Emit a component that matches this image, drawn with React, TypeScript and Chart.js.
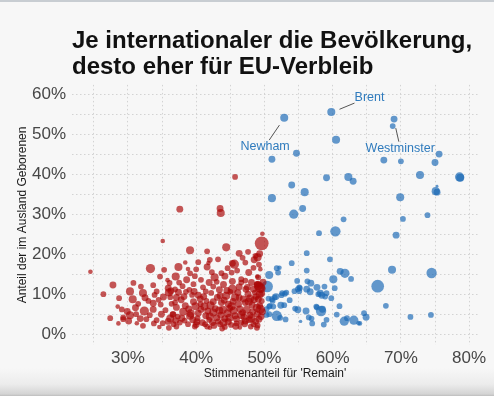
import React, { useEffect, useRef } from "react";
import { Chart, registerables } from "chart.js";

Chart.register(...registerables);

const titleLines = ["Je internationaler die Bevölkerung,", "desto eher für EU-Verbleib"];
const xAxisTitle = "Stimmenanteil für 'Remain'";
const yAxisTitle = "Anteil der im Ausland Geborenen";

const xGridValues = [25, 30, 35, 40, 45, 50, 55, 60, 65, 70, 75, 80];
const xLabelValues = [30, 40, 50, 60, 70, 80];
const yGridValues = [0, 5, 10, 15, 20, 25, 30, 35, 40, 45, 50, 55, 60];
const yLabelValues = [0, 10, 20, 30, 40, 50, 60];

// [remain share %, foreign-born share %, bubble size]
const leaveAreas: [number, number, number][] = [
  [45.7, 39.3, 2.5], [37.6, 31.25, 3], [43.5, 31.4, 3], [43.6, 30.3, 3.5], [35.1, 23.3, 2],
  [49.7, 25.1, 2], [49.6, 22.7, 6], [24.5, 15.6, 2], [26.4, 10.0, 2.5], [27.8, 12.3, 3],
  [27.4, 4.0, 2.5], [28.7, 9.0, 2.5], [29.1, 6.2, 2.5], [30.3, 10.7, 3.5], [30.7, 8.75, 3.5],
  [29.3, 4.2, 2.5], [31.9, 11.9, 2.5], [33.3, 16.4, 4], [34.7, 14.4, 2.5], [33.7, 12.25, 2.5],
  [32.2, 10.3, 3.5], [32.5, 9.1, 3], [32.4, 5.8, 4], [35.8, 13.5, 2], [37.0, 14.4, 3.5],
  [37.4, 16.8, 3.5], [37.5, 12.9, 2.5], [39.1, 21.0, 3.5], [38.4, 17.9, 2], [38.8, 16.3, 2],
  [39.8, 14.5, 2.5], [41.6, 20.7, 2.5], [41.8, 17.8, 2], [41.6, 16.8, 3], [42.7, 14.2, 3.5],
  [43.7, 15.25, 2.5], [44.4, 21.7, 3.5], [45.2, 15.4, 2.5], [45.6, 17.5, 4], [45.3, 17.7, 3],
  [46.3, 20.2, 3], [47.2, 17.9, 2.5], [48.5, 18.6, 3], [48.7, 19.6, 2.5], [49.2, 17.4, 2.5],
  [49.3, 20.1, 3], [49.0, 19.2, 3.5], [49.4, 16.25, 2], [48.95, 14.4, 2], [45.3, 11.25, 4],
  [46.6, 13.75, 2.5], [46.6, 12.9, 2.5], [48.4, 11.25, 3], [49.3, 11.7, 4.5], [49.0, 12.4, 3],
  [49.1, 12.1, 4], [49.5, 11.4, 4], [48.1, 12.9, 3], [47.5, 11.7, 3], [42.5, 11.9, 2.5],
  [41.0, 11.7, 2.5], [39.6, 12.5, 2.5], [41.9, 12.9, 3], [38.5, 10.6, 2.5], [37.1, 9.2, 3],
  [36.3, 10.8, 3], [35.9, 11.5, 3], [36.0, 10.4, 3.5], [36.9, 11.2, 2.5], [36.2, 9.25, 2.5],
  [40.3, 9.75, 3], [43.5, 9.6, 3], [44.4, 9.6, 3.5], [45.7, 9.2, 3.5], [47.9, 8.9, 3.5],
  [48.8, 9.4, 3], [49.3, 7.1, 3], [47.2, 7.9, 3], [46.2, 7.5, 3], [44.7, 7.5, 3],
  [43.7, 7.9, 3], [42.5, 8.1, 3], [41.5, 8.3, 2.5], [40.65, 7.5, 2.5], [39.6, 8.1, 3],
  [38.4, 7.1, 3], [37.1, 6.7, 3], [36.6, 5.0, 2.5], [38.1, 5.6, 3.5], [39.1, 4.6, 3.5],
  [40.3, 5.25, 3], [41.4, 4.6, 3], [42.5, 5.4, 3.5], [43.6, 4.75, 3], [44.6, 5.25, 3.5],
  [45.7, 4.6, 3], [46.8, 5.4, 3], [47.9, 4.75, 3], [48.95, 5.0, 3], [37.6, 2.9, 2.5],
  [38.8, 2.5, 2.5], [40.1, 3.1, 3], [41.3, 2.5, 2.5], [42.4, 2.9, 3], [43.5, 2.5, 2.5],
  [44.7, 3.1, 3], [45.9, 2.7, 2.5], [47.2, 3.3, 3], [48.4, 2.5, 2.5], [36.7, 2.5, 2.5],
  [31.1, 6.6, 3], [28.5, 6.9, 2], [33.7, 6.2, 3], [33.7, 7.75, 3], [30.3, 4.75, 3.5],
  [29.3, 3.75, 2.5], [30.1, 3.3, 3], [31.3, 2.75, 2], [31.8, 3.9, 3], [32.7, 3.75, 2.5],
  [33.8, 2.7, 2.5], [35.1, 2.75, 2.5], [36.2, 3.9, 3.5], [33.2, 4.75, 2.5], [34.8, 7.4, 2.5],
  [36.9, 7.9, 2.5], [37.3, 4.4, 2.5], [36.6, 4.9, 3], [34.5, 8.6, 2.5], [49.1, 8.75, 3],
  [49.4, 6.25, 4], [49.2, 3.75, 3], [49.6, 8.3, 2.5], [49.1, 14.2, 2.5], [48.9, 12.5, 2.5],
  [35.5, 6.0, 2.5], [35.9, 3.2, 3], [36.4, 7.6, 2.5], [37.8, 8.6, 3], [37.9, 4.0, 3],
  [38.3, 3.4, 2.5], [38.9, 6.3, 3], [39.4, 9.8, 2.5], [39.5, 3.6, 3], [39.9, 7.0, 3.5],
  [40.2, 4.0, 2.5], [40.7, 6.2, 3], [40.9, 2.9, 3], [41.1, 9.4, 3], [41.7, 5.8, 3],
  [41.9, 3.6, 2.5], [42.1, 7.2, 3.5], [42.2, 10.3, 2.5], [42.8, 6.4, 3], [43.0, 4.1, 3],
  [43.2, 3.2, 2.5], [43.9, 6.1, 3.5], [44.1, 8.5, 3], [44.2, 3.9, 3], [44.9, 6.5, 3],
  [45.1, 2.3, 2.5], [45.4, 8.2, 3], [45.5, 5.9, 3.5], [45.9, 3.8, 3], [46.1, 10.4, 3],
  [46.4, 6.3, 3], [46.6, 2.9, 2.5], [46.9, 8.8, 3], [47.0, 4.3, 3], [47.4, 6.1, 3.5],
  [47.6, 10.0, 3], [47.8, 3.6, 3], [48.2, 7.3, 3], [48.3, 5.6, 3], [48.6, 10.4, 2.5],
  [48.7, 3.2, 3], [48.9, 6.6, 3.5], [49.5, 4.4, 3], [49.6, 10.2, 3], [49.8, 13.0, 3],
  [47.2, 13.4, 2.5], [44.0, 12.4, 3], [43.0, 13.1, 2.5], [40.7, 13.6, 2.5], [38.6, 13.6, 3],
  [36.1, 12.8, 2.5], [34.2, 10.7, 2.5], [34.9, 5.0, 3], [34.2, 3.5, 2.5], [33.0, 8.3, 2.5],
  [31.5, 7.6, 2.5], [29.9, 5.7, 3], [28.6, 2.7, 2], [32.2, 2.1, 2.5], [34.6, 1.8, 2],
  [37.1, 1.9, 2.5], [39.8, 1.9, 2.5], [42.0, 1.6, 2], [44.2, 1.8, 2.5], [46.4, 1.7, 2],
  [48.0, 1.9, 2.5], [49.0, 2.2, 2.5], [43.4, 11.1, 3], [45.0, 10.6, 2.5], [41.4, 10.7, 2.5],
  [39.0, 11.1, 2.5], [37.4, 10.5, 3], [46.0, 15.9, 2.5], [44.6, 16.5, 2.5], [43.2, 18.7, 2.5],
  [40.3, 18.0, 2.5], [47.7, 15.4, 3], [48.4, 16.6, 2.5], [42.3, 15.5, 2.5], [39.1, 15.2, 2.5],
  [35.3, 16.1, 2.5], [46.8, 19.1, 2.5],
  [38.2, 9.4, 3], [39.2, 5.2, 3.5], [40.0, 2.4, 3], [40.6, 8.8, 3], [41.2, 6.9, 3.5],
  [42.0, 4.4, 3.5], [42.6, 2.2, 3], [43.1, 9.2, 3], [43.4, 5.9, 3.5], [44.0, 2.9, 3.5],
  [44.5, 10.9, 3], [44.9, 4.1, 3.5], [45.2, 7.0, 3.5], [45.8, 2.0, 3], [46.3, 9.1, 3],
  [46.6, 4.8, 3.5], [47.1, 2.6, 3], [47.3, 11.2, 3], [47.7, 8.1, 3.5], [48.1, 4.0, 3.5],
  [48.5, 8.6, 3], [48.9, 1.6, 2.5], [49.3, 9.9, 3.5], [49.7, 5.6, 3], [39.7, 10.7, 3],
  [38.0, 12.0, 2.5], [37.0, 3.4, 3], [36.0, 1.6, 2.5], [35.2, 9.3, 3], [33.9, 9.8, 2.5],
  [41.6, 1.9, 2.5], [43.8, 1.4, 2.5], [45.3, 13.2, 3], [46.3, 11.8, 3], [40.0, 16.2, 2.5],
  [44.2, 14.5, 3], [42.0, 18.6, 2.5], [47.6, 20.6, 2.5], [31.2, 5.0, 2.5], [30.8, 12.8, 2.5],
];

const remainAreas: [number, number, number][] = [
  [52.9, 54.1, 3.5], [59.8, 55.5, 3.5], [69.0, 53.75, 3], [68.8, 52.0, 2.5], [60.5, 48.6, 3.5],
  [51.1, 43.7, 3], [54.7, 45.2, 3], [67.5, 43.5, 3], [70.0, 43.2, 2.5], [75.0, 42.9, 3],
  [75.6, 45.0, 3], [72.8, 39.8, 3.5], [78.6, 39.3, 4], [78.7, 39.1, 3.5], [59.1, 39.1, 3],
  [62.3, 39.3, 3.5], [63.0, 38.2, 3], [54.0, 37.3, 3], [55.9, 35.5, 3.5], [51.1, 34.0, 3.5],
  [75.1, 35.75, 3.5], [75.3, 35.5, 3], [75.3, 37.0, 1.2], [69.9, 34.2, 3.5], [55.6, 31.4, 3],
  [54.3, 30.0, 4], [61.6, 28.7, 2.5], [70.3, 28.8, 2.5], [73.9, 29.75, 2.5], [58.0, 25.25, 2.5],
  [60.4, 25.7, 4.5], [69.3, 24.75, 3], [56.2, 20.25, 2.5], [68.7, 16.1, 3.5], [74.5, 15.3, 4.5],
  [66.6, 12.0, 5.5], [67.8, 7.1, 2.5], [71.4, 4.3, 2.5], [74.4, 4.8, 2.5], [64.6, 5.25, 2.5],
  [64.9, 4.25, 3], [63.8, 2.75, 2], [54.0, 17.75, 2.5], [59.6, 18.7, 2.5], [56.2, 15.9, 2.5],
  [61.1, 15.7, 3], [61.8, 15.2, 4], [62.7, 13.8, 2.5], [60.1, 13.7, 3.5], [50.7, 14.8, 3.5],
  [50.4, 11.9, 5], [52.0, 15.4, 2.5], [52.2, 16.6, 2], [56.3, 13.2, 2.5], [56.8, 12.75, 3],
  [54.8, 13.3, 2.5], [55.2, 11.5, 2.5], [54.4, 10.75, 2.5], [54.9, 11.25, 2.5], [56.2, 11.25, 3],
  [56.7, 10.6, 3], [57.7, 11.7, 3], [58.8, 11.9, 2.5], [58.2, 10.25, 3], [58.4, 9.75, 3],
  [60.3, 11.5, 2.5], [59.8, 9.0, 2.5], [58.9, 9.4, 2.5], [53.7, 8.5, 2.5], [52.4, 7.25, 3],
  [51.1, 8.75, 2.5], [51.7, 9.4, 3], [52.6, 10.25, 2.5], [53.0, 10.1, 2.5], [53.2, 10.4, 2.5],
  [54.5, 6.4, 2.5], [54.9, 6.1, 3], [56.1, 5.8, 3], [58.3, 5.8, 4.5], [58.5, 6.25, 3],
  [57.6, 6.9, 2.5], [61.0, 7.0, 2.5], [51.8, 4.6, 4.5], [53.1, 3.7, 2.5], [55.3, 3.2, 1.5],
  [56.9, 3.9, 2.5], [57.0, 2.7, 2.5], [58.7, 2.4, 2.5], [59.1, 3.6, 2.5], [60.6, 4.9, 2.5],
  [61.7, 3.25, 4], [62.1, 4.0, 2.5], [63.1, 3.5, 4], [50.7, 6.9, 2.5], [51.3, 6.9, 2.5],
  [50.7, 5.0, 2.5], [50.3, 4.8, 2.5], [59.1, 10.25, 2.5], [57.9, 10.0, 2.5], [57.7, 6.7, 2.5],
  [64.0, 2.7, 2], [56.5, 4.2, 2.5], [51.5, 9.2, 2.5], [51.2, 8.3, 2.5], [52.9, 7.25, 2.5],
  [55.1, 10.75, 2.5], [52.5, 9.75, 2.5], [50.6, 8.9, 2.5], [50.8, 7.1, 2.5], [52.3, 4.1, 2.5],
  [55.1, 11.7, 2.5], [51.8, 16.5, 2.5], [50.3, 6.25, 2.5],
];

const annotationNames = ["Brent", "Newham", "Westminster"];
const annotationLabelX = [65.4, 50.1, 69.9];
const annotationLabelY = [59.25, 46.8, 46.5];
const connectorStartX = [61.0, 50.7, 69.25];
const connectorStartY = [56.2, 48.5, 51.5];
const connectorEndX = [63.2, 52.2, 69.7];
const connectorEndY = [57.75, 52.25, 48.1];

const RADIUS_SCALE = 1.15;

const annotationPlugin = {
  id: "areaLabels",
  afterDatasetsDraw(chart: any) {
    const { ctx, scales } = chart;
    const xs = scales.x;
    const ys = scales.y;
    ctx.save();
    ctx.strokeStyle = "#555555";
    ctx.lineWidth = 1;
    annotationNames.forEach((_, i) => {
      ctx.beginPath();
      ctx.moveTo(xs.getPixelForValue(connectorStartX[i]), ys.getPixelForValue(connectorStartY[i]));
      ctx.lineTo(xs.getPixelForValue(connectorEndX[i]), ys.getPixelForValue(connectorEndY[i]));
      ctx.stroke();
    });
    ctx.fillStyle = "#2f7bbd";
    ctx.font = "12.5px 'Liberation Sans', Arial, sans-serif";
    ctx.textAlign = "center";
    ctx.textBaseline = "middle";
    annotationNames.forEach((name, i) => {
      ctx.fillText(name, xs.getPixelForValue(annotationLabelX[i]), ys.getPixelForValue(annotationLabelY[i]));
    });
    ctx.restore();
  },
};

export default function App() {
  const canvasRef = useRef<HTMLCanvasElement>(null);

  useEffect(() => {
    document.body.style.margin = "0";
    const canvas = canvasRef.current;
    if (!canvas) return;
    Chart.defaults.font.family = "'Liberation Sans', Arial, sans-serif";
    const grid = { color: "#d3d3d3", lineWidth: 1, drawTicks: false };
    const border = { display: false, dash: [1.5, 2.5] };
    const chart = new Chart(canvas, {
      type: "bubble",
      data: {
        datasets: [
          {
            label: "Leave",
            data: leaveAreas.map(([x, y, r]) => ({ x, y, r: r * RADIUS_SCALE })),
            backgroundColor: "rgba(170, 6, 6, 0.68)",
            borderWidth: 0,
            hoverBorderWidth: 0,
          },
          {
            label: "Remain",
            data: remainAreas.map(([x, y, r]) => ({ x, y, r: r * RADIUS_SCALE })),
            backgroundColor: "rgba(26, 104, 182, 0.68)",
            borderWidth: 0,
            hoverBorderWidth: 0,
          },
        ],
      },
      options: {
        animation: false,
        responsive: false,
        events: [],
        layout: { padding: { left: 0, right: 16, top: 0, bottom: 0 } },
        plugins: {
          legend: { display: false },
          tooltip: { enabled: false },
          title: {
            display: true,
            text: titleLines,
            align: "start",
            fullSize: false,
            color: "#111111",
            font: { size: 24, weight: "bold", lineHeight: 1.06 },
            padding: { top: 29, bottom: 5 },
          },
        },
        scales: {
          x: {
            type: "linear",
            min: 21.8,
            max: 81.3,
            afterBuildTicks: (scale: any) => {
              scale.ticks = xGridValues.map((v) => ({ value: v }));
            },
            afterFit: (scale: any) => {
              scale.height = 51;
            },
            grid,
            border,
            ticks: {
              autoSkip: false,
              maxRotation: 0,
              padding: 3,
              color: "#474747",
              font: { size: 17 },
              callback: (v: any) => (xLabelValues.includes(Number(v)) ? `${v}%` : ""),
            },
            title: {
              display: true,
              text: xAxisTitle,
              color: "#1a1a1a",
              font: { size: 12 },
              padding: { top: 0, bottom: 15.5 },
            },
          },
          y: {
            type: "linear",
            min: -2.7,
            max: 62.3,
            afterBuildTicks: (scale: any) => {
              scale.ticks = yGridValues.map((v) => ({ value: v }));
            },
            afterFit: (scale: any) => {
              scale.width = 72;
            },
            grid,
            border,
            ticks: {
              autoSkip: false,
              padding: 6,
              color: "#474747",
              font: { size: 17 },
              callback: (v: any) => (yLabelValues.includes(Number(v)) ? `${v}%` : ""),
            },
            title: {
              display: true,
              text: yAxisTitle,
              color: "#1a1a1a",
              font: { size: 12 },
              padding: { top: 15.5, bottom: 0 },
            },
          },
        },
      },
      plugins: [annotationPlugin],
    } as any);
    return () => chart.destroy();
  }, []);

  return (
    <div
      style={{
        position: "relative",
        width: 494,
        height: 396,
        overflow: "hidden",
        background:
          "linear-gradient(to bottom, #f7f7f7 0%, #f7f7f7 93%, #ececec 97%, #d4d4d4 99.5%, #bdbdbd 100%)",
      }}
    >
      <div style={{ position: "absolute", left: 0, top: 0, width: 494, height: 2, background: "#c8cdd2" }} />
      <canvas ref={canvasRef} width={494} height={396} style={{ position: "absolute", left: 0, top: 0 }} />
    </div>
  );
}
